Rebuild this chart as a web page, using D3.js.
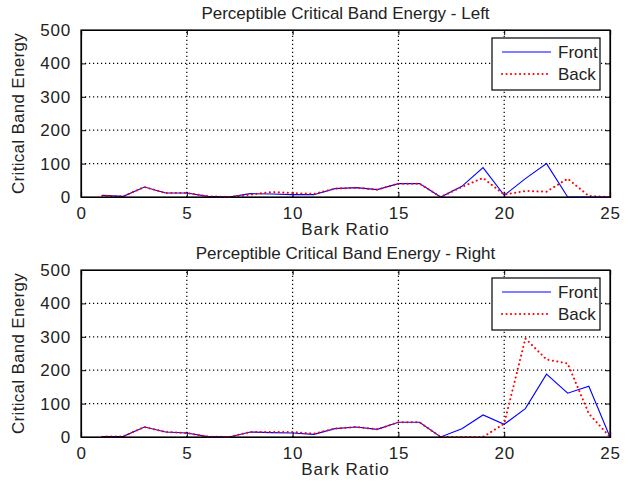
<!DOCTYPE html>
<html>
<head>
<meta charset="utf-8">
<script src="https://cdn.jsdelivr.net/npm/d3@7"></script>
<style>
    html, body { margin: 0; padding: 0; background: #fff; }
    svg text { font-family: "Liberation Sans", Arial, sans-serif; fill: #222; }
    .tick-label { font-size: 17px; letter-spacing: 0.8px; }
    .title { font-size: 17px; letter-spacing: 0; }
    .axis-label { font-size: 17px; letter-spacing: 0.9px; }
    .axis-label.y { letter-spacing: 0.3px; }
    .legend text { font-size: 17px; letter-spacing: 0; }
</style>
</head>
<body>
<div id="chart"></div>
<script>
(function () {'use strict';

// Bark bands 1..25
var bark = d3.range(1, 26);

// Left channel
var leftFront = [5, 2, 30, 12, 12, 2, 0, 10, 9, 7, 7, 25, 28, 22, 40, 40, 0, 32, 88, 5, 55, 100, 0, 0, 0];
var leftBack  = [4, 2, 30, 12, 12, 2, 0, 7, 15, 12, 9, 25, 28, 22, 40, 40, 0, 30, 57, 7, 18, 16, 55, 3, 0];

// Right channel
var rightFront = [1, 2, 30, 15, 12, 1, 0, 15, 13, 12, 8, 25, 30, 23, 44, 44, 0, 25, 66, 38, 85, 188, 131, 152, 0];
var rightBack  = [1, 2, 30, 15, 12, 1, 0, 15, 15, 15, 10, 25, 30, 23, 44, 44, 0, 0, 0, 40, 295, 232, 220, 70, 0];

var xTicks = [0, 5, 10, 15, 20, 25];
var yTicks = [0, 100, 200, 300, 400, 500];

var panels = [
    { title: 'Perceptible Critical Band Energy - Left',  front: leftFront,  back: leftBack,  top: 30 },
    { title: 'Perceptible Critical Band Energy - Right', front: rightFront, back: rightBack, top: 270 }
];

var width = 634,
    height = 483,
    plot = { left: 81, right: 610, height: 167 };

var svg = d3.select('#chart')
    .append('svg')
        .attr('width', width)
        .attr('height', height);

var x = d3.scaleLinear().domain([0, 25]).range([plot.left, plot.right]);

panels.forEach(function (p) {
    var y = d3.scaleLinear().domain([0, 500]).range([p.top + plot.height, p.top]);
    var g = svg.append('g');

    // Grid (dotted)
    g.selectAll('.vgrid')
        .data(xTicks.slice(1, -1))
        .enter().append('line')
            .attr('x1', function (d) { return x(d); })
            .attr('x2', function (d) { return x(d); })
            .attr('y1', y(0))
            .attr('y2', y(500))
            .attr('stroke', '#000')
            .attr('stroke-width', 1.2)
            .attr('stroke-dasharray', '1.2,2.8');

    g.selectAll('.hgrid')
        .data(yTicks.slice(1, -1))
        .enter().append('line')
            .attr('x1', x(0))
            .attr('x2', x(25))
            .attr('y1', function (d) { return y(d); })
            .attr('y2', function (d) { return y(d); })
            .attr('stroke', '#000')
            .attr('stroke-width', 1.2)
            .attr('stroke-dasharray', '1.2,2.8');

    // Axes: ticks inward on all four sides
    g.append('g')
        .attr('transform', 'translate(0,' + y(0) + ')')
        .call(d3.axisBottom(x).tickValues(xTicks).tickSize(-5).tickPadding(10).tickFormat(d3.format('d')))
        .call(styleAxis);
    g.append('g')
        .attr('transform', 'translate(0,' + y(500) + ')')
        .call(d3.axisTop(x).tickValues(xTicks).tickSize(-5).tickFormat(''))
        .call(styleAxis);
    g.append('g')
        .attr('transform', 'translate(' + x(0) + ',0)')
        .call(d3.axisLeft(y).tickValues(yTicks).tickSize(-5).tickPadding(10).tickFormat(d3.format('d')))
        .call(styleAxis);
    g.append('g')
        .attr('transform', 'translate(' + x(25) + ',0)')
        .call(d3.axisRight(y).tickValues(yTicks).tickSize(-5).tickFormat(''))
        .call(styleAxis);

    // Series
    var line = d3.line()
        .x(function (d, i) { return x(bark[i]); })
        .y(function (d) { return y(d); });

    g.append('path')
        .datum(p.front)
        .attr('fill', 'none')
        .attr('stroke', '#0000ff')
        .attr('stroke-width', 1.1)
        .attr('d', line);

    g.append('path')
        .datum(p.back)
        .attr('fill', 'none')
        .attr('stroke', '#ff0000')
        .attr('stroke-width', 2)
        .attr('stroke-linecap', 'round')
        .attr('stroke-dasharray', '0.1,4.4')
        .attr('d', line);

    // Box
    g.append('rect')
        .attr('x', x(0))
        .attr('y', y(500))
        .attr('width', x(25) - x(0))
        .attr('height', y(0) - y(500))
        .attr('fill', 'none')
        .attr('stroke', '#000')
        .attr('stroke-width', 1.2);

    // Titles and labels
    g.append('text')
        .attr('class', 'title')
        .attr('x', (plot.left + plot.right) / 2)
        .attr('y', p.top - 11)
        .attr('text-anchor', 'middle')
        .text(p.title);

    g.append('text')
        .attr('class', 'axis-label')
        .attr('x', (plot.left + plot.right) / 2)
        .attr('y', y(0) + 38)
        .attr('text-anchor', 'middle')
        .text('Bark Ratio');

    g.append('text')
        .attr('class', 'axis-label y')
        .attr('transform', 'translate(24,' + (p.top + plot.height / 2) + ') rotate(-90)')
        .attr('text-anchor', 'middle')
        .text('Critical Band Energy');

    // Legend
    var lg = g.append('g')
        .attr('class', 'legend')
        .attr('transform', 'translate(492,' + (p.top + 8) + ')');

    lg.append('rect')
        .attr('width', 108)
        .attr('height', 52)
        .attr('fill', '#fff')
        .attr('stroke', '#000')
        .attr('stroke-width', 1.2);

    var items = [
        { name: 'Front', color: '#0000ff', dash: null, w: 1.1 },
        { name: 'Back',  color: '#ff0000', dash: '0.1,4.4', w: 2 }
    ];

    items.forEach(function (it, i) {
        var cy = 14 + i * 22;
        lg.append('line')
            .attr('x1', 10)
            .attr('x2', 59)
            .attr('y1', cy)
            .attr('y2', cy)
            .attr('stroke', it.color)
            .attr('stroke-width', it.w)
            .attr('stroke-linecap', it.dash ? 'round' : 'butt')
            .attr('stroke-dasharray', it.dash);
        lg.append('text')
            .attr('x', 66)
            .attr('y', cy + 6)
            .text(it.name);
    });
});

function styleAxis(sel) {
    sel.select('.domain').attr('stroke', '#000').attr('stroke-width', 1.2);
    sel.selectAll('.tick line').attr('stroke', '#000');
    sel.selectAll('.tick text')
        .attr('class', 'tick-label')
        .attr('fill', '#222');
}

})();
</script>
</body>
</html>
